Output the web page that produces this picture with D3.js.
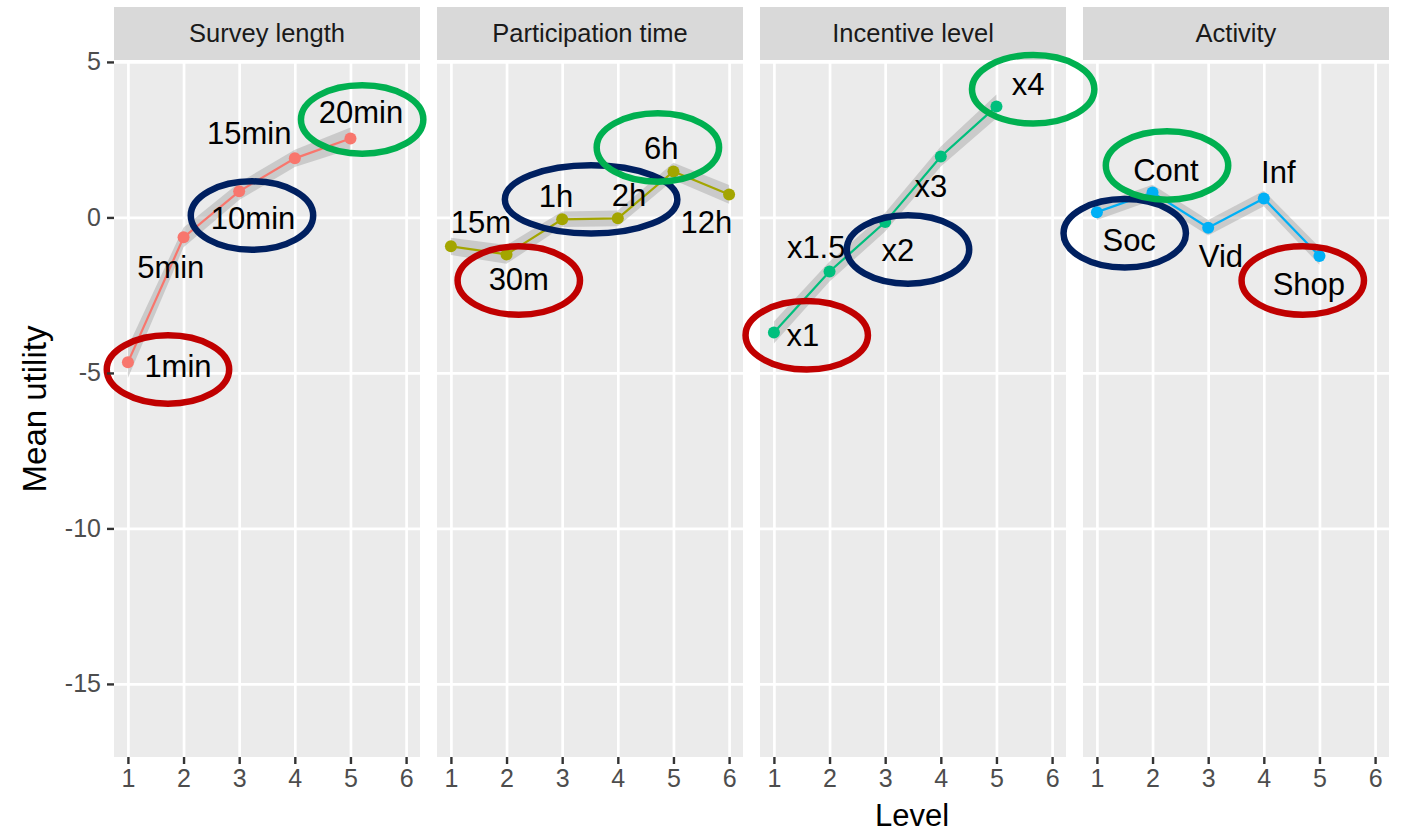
<!DOCTYPE html>
<html>
<head>
<meta charset="utf-8">
<script src="https://cdn.jsdelivr.net/npm/d3@7"></script>
<style>
  html, body { margin: 0; padding: 0; background: #ffffff; }
  svg { display: block; font-family: "Liberation Sans", Arial, sans-serif; }
</style>
</head>
<body>
<svg id="chart" width="1404" height="835"></svg>
<script>
// ---- data -------------------------------------------------------------
const facetNames = ["Survey length", "Participation time", "Incentive level", "Activity"];

const levelsSurvey = [1, 2, 3, 4, 5];
const levelsTime = [1, 2, 3, 4, 5, 6];
const levelsIncentive = [1, 2, 3, 4, 5];
const levelsActivity = [1, 2, 3, 4, 5];

const utilitySurvey = [-4.66, -0.64, 0.84, 1.90, 2.54];
const utilityTime = [-0.93, -1.19, -0.06, -0.03, 1.48, 0.74];
const utilityIncentive = [-3.70, -1.74, -0.15, 1.96, 3.57];
const utilityActivity = [0.17, 0.80, -0.33, 0.61, -1.24];

// half-width of the confidence band around each mean
const errSurvey = [0.50, 0.32, 0.28, 0.28, 0.35];
const errTime = [0.28, 0.30, 0.25, 0.25, 0.28, 0.30];
const errIncentive = [0.35, 0.32, 0.30, 0.32, 0.38];
const errActivity = [0.25, 0.25, 0.25, 0.25, 0.28];

const textSurvey = ["1min", "5min", "10min", "15min", "20min"];
const textTime = ["15m", "30m", "1h", "2h", "6h", "12h"];
const textIncentive = ["x1", "x1.5", "x2", "x3", "x4"];
const textActivity = ["Soc", "Cont", "Vid", "Inf", "Shop"];

// label anchor points (level, utility)
const labelLevelSurvey = [1.90, 1.77, 3.25, 3.18, 5.19];
const labelUtilSurvey = [-4.76, -1.58, 0.00, 2.73, 3.38];
const labelLevelTime = [1.54, 2.22, 2.89, 4.20, 4.78, 5.59];
const labelUtilTime = [-0.13, -1.99, 0.68, 0.74, 2.25, -0.13];
const labelLevelIncentive = [1.52, 1.76, 3.23, 3.82, 5.57];
const labelUtilIncentive = [-3.76, -0.93, -1.03, 1.00, 4.28];
const labelLevelActivity = [1.58, 2.24, 3.23, 4.26, 4.81];
const labelUtilActivity = [-0.71, 1.54, -1.25, 1.45, -2.15];

// highlight rings: facet index, kind, centre (level, utility), half-width in levels
const ringFacet = [0, 0, 0, 1, 1, 1, 2, 2, 2, 3, 3, 3];
const ringKind = ["worst", "middle", "best", "worst", "middle", "best",
                  "worst", "middle", "best", "middle", "best", "worst"];
const ringLevel = [1.72, 3.23, 5.21, 2.22, 3.52, 4.72, 1.59, 3.41, 5.66, 1.50, 2.26, 4.70];
const ringUtility = [-4.89, 0.06, 3.15, -2.03, 0.58, 2.25, -3.79, -1.03, 4.12, -0.51, 1.67, -2.03];
const ringHalfWidth = [1.10, 1.10, 1.10, 1.10, 1.55, 1.10, 1.10, 1.10, 1.10, 1.10, 1.10, 1.10];
const ringHalfHeight = 1.1;

const xTicks = [1, 2, 3, 4, 5, 6];
const yTicks = [5, 0, -5, -10, -15];

// ---- layout & styles --------------------------------------------------
const lineColors = ["#F8766D", "#A3A500", "#00BF7D", "#00B0F6"];
const ringColors = { worst: "#C00000", middle: "#002060", best: "#00B050" };

const panelLeft0 = 114, panelW = 306, panelGap = 17;
const panelTop = 61, panelBottom = 757;
const stripTop = 7, stripBottom = 60;

const facets = [
  { levels: levelsSurvey, util: utilitySurvey, err: errSurvey, text: textSurvey, lx: labelLevelSurvey, ly: labelUtilSurvey },
  { levels: levelsTime, util: utilityTime, err: errTime, text: textTime, lx: labelLevelTime, ly: labelUtilTime },
  { levels: levelsIncentive, util: utilityIncentive, err: errIncentive, text: textIncentive, lx: labelLevelIncentive, ly: labelUtilIncentive },
  { levels: levelsActivity, util: utilityActivity, err: errActivity, text: textActivity, lx: labelLevelActivity, ly: labelUtilActivity }
];

// plain hyphen for negative tick labels
const tickText = d => String(d);

const svg = d3.select("#chart");

const y = d3.scaleLinear().domain([-17.35, 5.03]).range([panelBottom, panelTop]);

const xScales = facetNames.map((_, i) => {
  const left = panelLeft0 + i * (panelW + panelGap);
  return d3.scaleLinear().domain([0.75, 6.25]).range([left, left + panelW]);
});

const panelsG = svg.append("g");
const ringsG = svg.append("g");

facetNames.forEach((name, i) => {
  const x = xScales[i];
  const f = facets[i];
  const left = x.range()[0];
  const g = panelsG.append("g");

  // strip
  g.append("rect").attr("x", left).attr("y", stripTop)
    .attr("width", panelW).attr("height", stripBottom - stripTop).attr("fill", "#D9D9D9");
  g.append("text").attr("x", left + panelW / 2).attr("y", (stripTop + stripBottom) / 2)
    .attr("dy", "0.35em").attr("text-anchor", "middle")
    .attr("font-size", 25.5).attr("fill", "#1A1A1A").text(name);

  // panel background
  g.append("rect").attr("x", left).attr("y", panelTop)
    .attr("width", panelW).attr("height", panelBottom - panelTop).attr("fill", "#EBEBEB");

  // grid
  const gridX = g.append("g").attr("transform", `translate(0,${panelBottom})`)
    .call(d3.axisBottom(x).tickValues(xTicks).tickSize(-(panelBottom - panelTop)).tickFormat(""));
  gridX.select(".domain").remove();
  gridX.selectAll("line").attr("stroke", "#FFFFFF").attr("stroke-width", 2.7);

  const gridY = g.append("g").attr("transform", `translate(${left},0)`)
    .call(d3.axisLeft(y).tickValues(yTicks).tickSize(-panelW).tickFormat(""));
  gridY.select(".domain").remove();
  gridY.selectAll("line").attr("stroke", "#FFFFFF").attr("stroke-width", 2.7);

  // bottom axis
  const axX = g.append("g").attr("transform", `translate(0,${panelBottom})`)
    .call(d3.axisBottom(x).tickValues(xTicks).tickSize(7).tickPadding(5).tickFormat(tickText));
  axX.select(".domain").remove();
  axX.selectAll("line").attr("stroke", "#333333").attr("stroke-width", 2.4);
  axX.selectAll("text").attr("font-size", 25).attr("fill", "#4D4D4D")
    .attr("font-family", "Liberation Sans, Arial, sans-serif");

  // data
  const pts = f.levels.map((lv, k) => ({ lv, u: f.util[k], e: f.err[k] }));
  const plot = g.append("g");

  plot.append("path").datum(pts)
    .attr("d", d3.area().x(d => x(d.lv)).y0(d => y(d.u - d.e)).y1(d => y(d.u + d.e)))
    .attr("fill", "#999999").attr("fill-opacity", 0.4);

  plot.append("path").datum(pts)
    .attr("d", d3.line().x(d => x(d.lv)).y(d => y(d.u)))
    .attr("fill", "none").attr("stroke", lineColors[i]).attr("stroke-width", 2.2);

  plot.selectAll("circle").data(pts).join("circle")
    .attr("cx", d => x(d.lv)).attr("cy", d => y(d.u)).attr("r", 6)
    .attr("fill", lineColors[i]);

  plot.selectAll("text.lab").data(f.text).join("text").attr("class", "lab")
    .attr("x", (d, k) => x(f.lx[k])).attr("y", (d, k) => y(f.ly[k]))
    .attr("dy", "0.36em").attr("text-anchor", "middle")
    .attr("font-size", 31).attr("fill", "#000000").text(d => d);
});

// left axis
const axY = svg.append("g").attr("transform", `translate(${panelLeft0},0)`)
  .call(d3.axisLeft(y).tickValues(yTicks).tickSize(7).tickPadding(6).tickFormat(tickText));
axY.select(".domain").remove();
axY.selectAll("line").attr("stroke", "#333333").attr("stroke-width", 2.4);
axY.selectAll("text").attr("font-size", 25).attr("fill", "#4D4D4D")
  .attr("font-family", "Liberation Sans, Arial, sans-serif");

// axis titles
svg.append("text").attr("transform", `translate(34,${(panelTop + panelBottom) / 2}) rotate(-90)`)
  .attr("dy", "0.35em").attr("text-anchor", "middle").attr("font-size", 33).attr("fill", "#000")
  .text("Mean utility");
svg.append("text").attr("x", 912).attr("y", 826)
  .attr("text-anchor", "middle").attr("font-size", 31).attr("fill", "#000")
  .text("Level");

// highlight rings
ringsG.selectAll("ellipse").data(ringFacet).join("ellipse")
  .attr("cx", (fi, k) => xScales[fi](ringLevel[k]))
  .attr("cy", (fi, k) => y(ringUtility[k]))
  .attr("rx", (fi, k) => xScales[fi](ringLevel[k] + ringHalfWidth[k]) - xScales[fi](ringLevel[k]))
  .attr("ry", () => y(0) - y(ringHalfHeight))
  .attr("fill", "none")
  .attr("stroke", (fi, k) => ringColors[ringKind[k]])
  .attr("stroke-width", 6.5);
</script>
</body>
</html>
